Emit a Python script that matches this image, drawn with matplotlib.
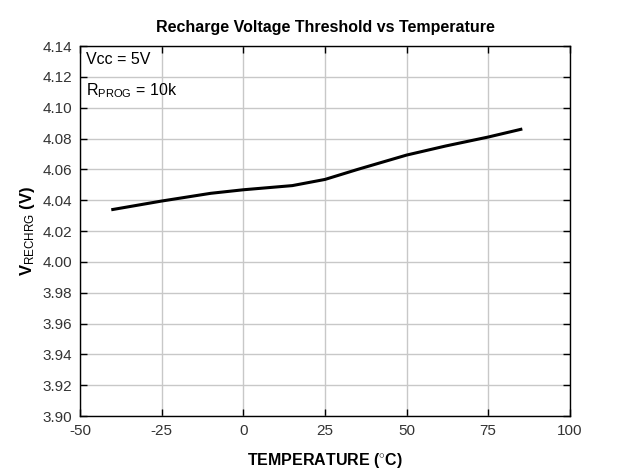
import numpy as np
import matplotlib
matplotlib.use("Agg")
import matplotlib.pyplot as plt

plt.rcParams["font.family"] = ["Liberation Sans", "DejaVu Sans"]
plt.rcParams["mathtext.fontset"] = "custom"
plt.rcParams["mathtext.rm"] = "Liberation Sans"
plt.rcParams["mathtext.bf"] = "Liberation Sans:bold"
plt.rcParams["mathtext.it"] = "Liberation Sans:italic"
plt.rcParams["axes.unicode_minus"] = False

# data
temp = [-40, -25, -10, 0, 15, 25, 35, 50, 62, 75, 85]
vrechrg = [4.0340, 4.0395, 4.0445, 4.0468, 4.0495, 4.0535, 4.0600, 4.0693, 4.0752, 4.0810, 4.0860]

xticks = [-50, -25, 0, 25, 50, 75, 100]
yticks = np.round(np.arange(3.90, 4.1401, 0.02), 2)

fig = plt.figure(figsize=(6.31, 4.75), dpi=100)
ax = fig.add_axes([0.127, 0.124, 0.776, 0.779])

ax.plot(temp, vrechrg, color="black", lw=2.2)

ax.set_xlim(-50, 100)
ax.set_ylim(3.90, 4.14)
ax.set_xticks(xticks)
ax.set_yticks(yticks)
ax.set_yticklabels([f"{v:.2f}" for v in yticks])
ax.grid(True, color="#c8c8c8", lw=1.0)
ax.tick_params(axis="both", direction="in", length=5, width=1,
               labelsize=11, labelcolor="#333333",
               top=True, right=True, pad=6)
for s in ax.spines.values():
    s.set_linewidth(1.0)

ax.set_title("Recharge Voltage Threshold vs Temperature", fontsize=11.5,
             fontweight="bold", pad=10)
ax.set_xlabel(r"TEMPERATURE ($^{\circ}$C)", fontsize=11.5,
              fontweight="bold", labelpad=9)
ax.set_ylabel(r"$\mathbf{V_{\mathrm{RECHRG}}}$ (V)", fontsize=12,
              fontweight="bold", labelpad=4)

ax.text(0.012, 0.985, "Vcc = 5V", transform=ax.transAxes, fontsize=11.5,
        va="top", ha="left")
ax.text(0.012, 0.905, r"R$_{\mathregular{PROG}}$ = 10k", transform=ax.transAxes,
        fontsize=11.5, va="top", ha="left")

fig.savefig("out.png", dpi=100)
